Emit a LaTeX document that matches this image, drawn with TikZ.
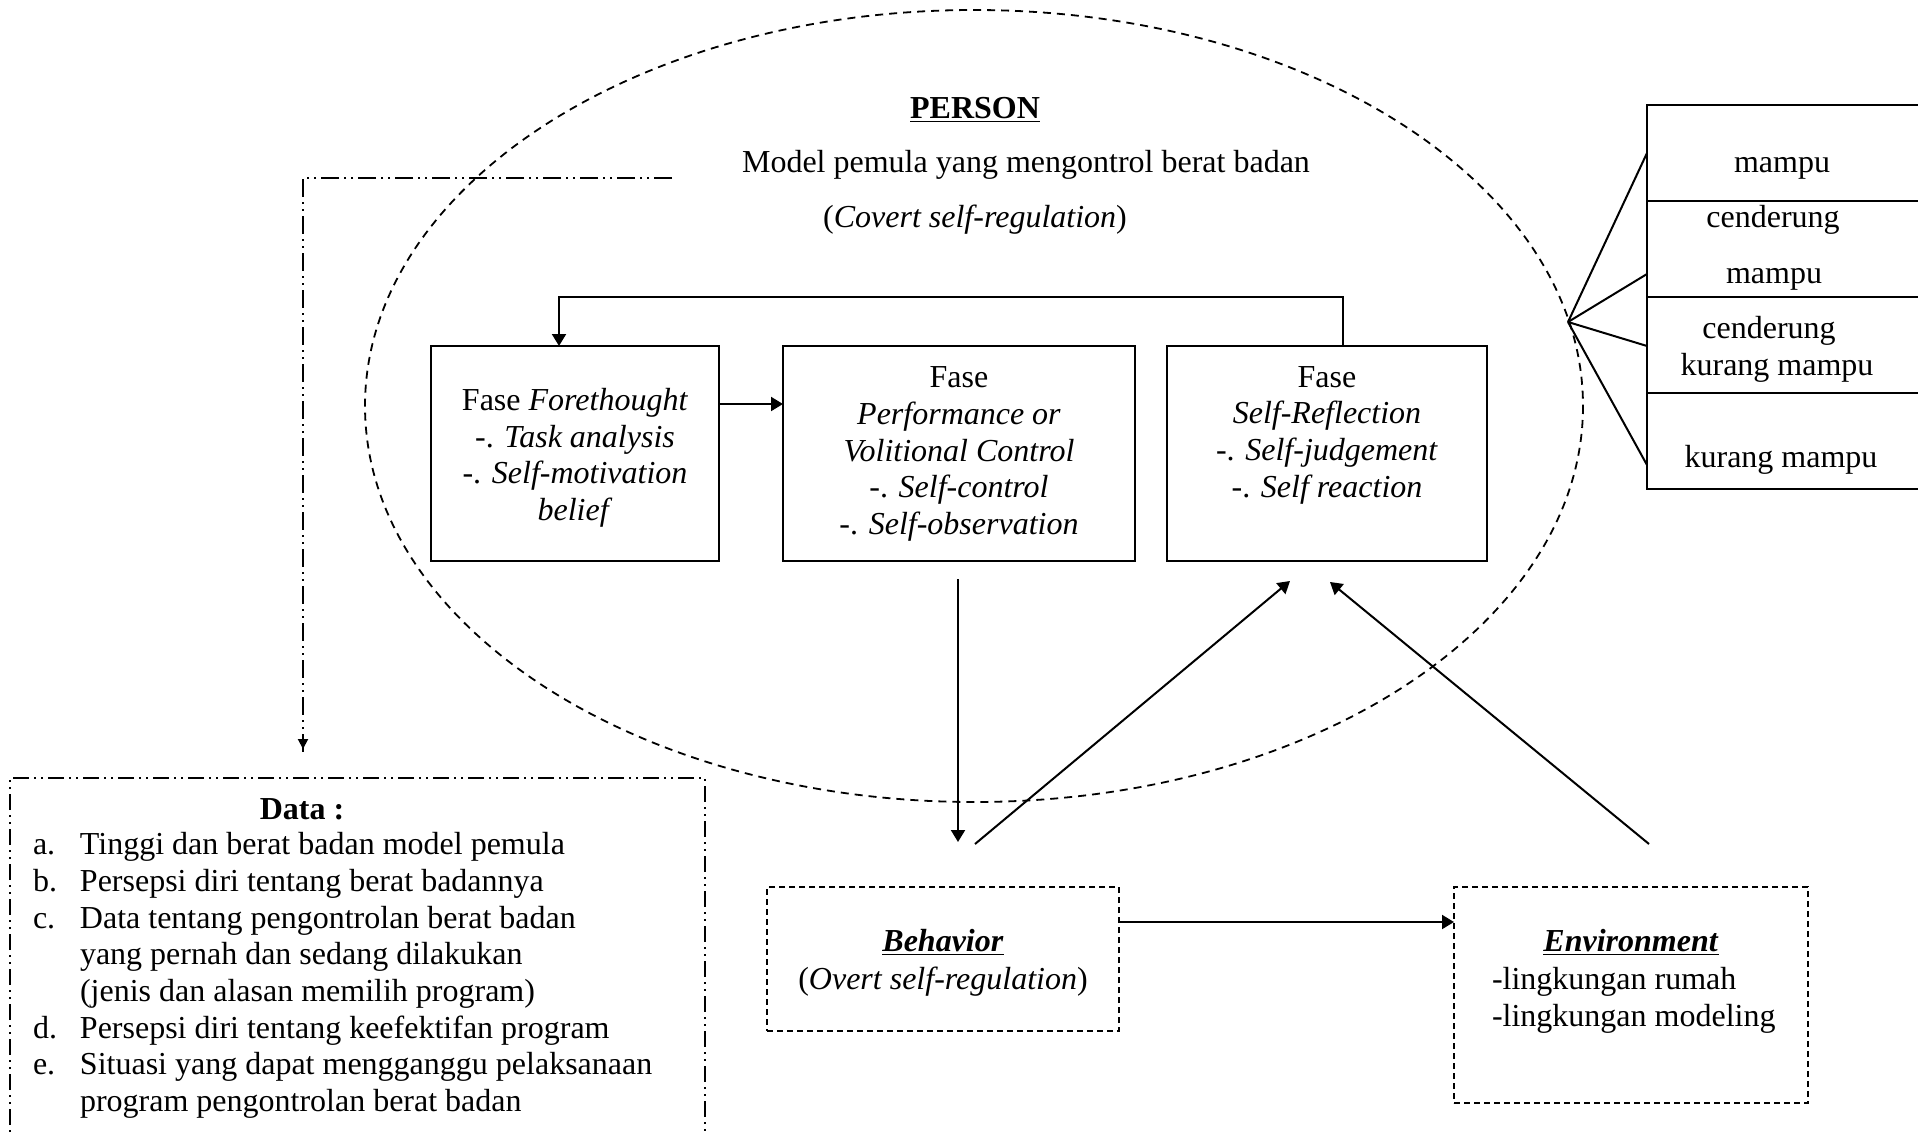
\documentclass[tikz,border=0pt]{standalone}
\usepackage{fontspec}
\setmainfont{Liberation Serif}
\usetikzlibrary{arrows.meta}
\begin{document}
\begin{tikzpicture}[x=0.5pt,y=-0.5pt,
  every node/.style={font=\fontsize{16}{18.35}\selectfont, inner sep=0pt, outer sep=0pt},
  arr/.style={line width=1pt, -{Triangle[length=6pt,width=7pt]}},
  solidline/.style={line width=1pt},
  phasebox/.style={draw, line width=1pt},
  dashbox/.style={draw, line width=1pt, dash pattern=on 3pt off 2pt},
  ddot/.style={line width=1.4pt, dash pattern=on 9pt off 2.5pt on 1pt off 2.5pt on 1pt off 2.5pt},
  ddotthin/.style={line width=1pt, dash pattern=on 8pt off 2.5pt on 1pt off 2.5pt on 1pt off 2.5pt},
  tabrow/.style={draw, line width=1pt, minimum width=139pt, minimum height=48pt},
  txt/.style={anchor=base}]
\useasboundingbox (0,0) rectangle (1918,1135);

% ellipse PERSON
\draw[line width=0.9pt, dash pattern=on 4pt off 3pt] (974,406) ellipse [x radius=609, y radius=396];

\node[txt] (person) at (975,118) {\underline{\textbf{PERSON}}};
\node[txt] (model) at (1026,172) {Model pemula yang mengontrol berat badan};
\node[txt] (covert) at (975,227) {(\textit{Covert self-regulation})};

% phase boxes
\node[phasebox, minimum width=144pt, minimum height=107.5pt] (b1) at (575,453.5) {};
\node[phasebox, minimum width=176pt, minimum height=107.5pt] (b2) at (959,453.5) {};
\node[phasebox, minimum width=160pt, minimum height=107.5pt] (b3) at (1327,453.5) {};

\node[align=center] (t1) at (575,458.3) {\strut Fase \textit{Forethought}\\\strut -. \textit{Task analysis}\\\strut -. \textit{Self-motivation}\\\strut\textit{belief}};
\node[align=center] (t2) at (959,453.8) {\strut Fase\\\strut\textit{Performance or}\\\strut\textit{Volitional Control}\\\strut -. \textit{Self-control}\\\strut -. \textit{Self-observation}};
\node[align=center] (t3) at (1327,434.8) {\strut Fase\\\strut\textit{Self-Reflection}\\\strut -. \textit{Self-judgement}\\\strut -. \textit{Self reaction}};

\coordinate (r12) at (0,404);
\draw[arr] (b1.east |- r12) -- (b2.west |- r12);

\coordinate (fb1) at (1343,297);
\coordinate (fb2) at (559,297);
\draw[arr] (b3.north -| fb1) -- (fb1) -- (fb2) -- (b1.north -| fb2);

% behavior and environment
\node[dashbox, minimum width=176pt, minimum height=72pt] (beh) at (943,959) {};
\node[dashbox, minimum width=177pt, minimum height=108pt] (env) at (1631,995) {};
\node[txt] (behT) at (943,951) {\underline{\textbf{\textit{Behavior}}}};
\node[txt] (behS) at (943,989) {(\textit{Overt self-regulation})};
\node[txt] (envT) at (1631,951) {\underline{\textbf{\textit{Environment}}}};
\node[align=left, anchor=north west] (envL) at (1492,964) {\strut -lingkungan rumah\\\strut -lingkungan modeling};

\coordinate (be) at (0,922);
\draw[arr] (beh.east |- be) -- (env.west |- be);

\coordinate (d1) at (958,579);
\coordinate (d2) at (958,842);
\draw[arr] (d1) -- (d2);
\coordinate (u1s) at (975,844);
\coordinate (u1e) at (1290,581);
\draw[arr] (u1s) -- (u1e);
\coordinate (u2s) at (1649,844);
\coordinate (u2e) at (1330,582);
\draw[arr] (u2s) -- (u2e);

% dash-dot connector to data
\coordinate (p1) at (672,178);
\coordinate (p2) at (303,178);
\coordinate (p3) at (303,749);
\draw[ddot] (p1) -- (p2) -- ([yshift=-2pt]p3);
\draw[line width=1pt, -{Triangle[length=5pt,width=5pt]}] ([yshift=4pt]p3) -- (p3);

% data box
\draw[ddotthin] (10,1160) -- (10,778) -- (705,778) -- (705,1160);
\node[txt] (dataT) at (302,819) {\textbf{Data :}};
\node[align=left, anchor=north west] (dataL) at (33,829) {%
\strut\makebox[23.5pt][l]{a.}Tinggi dan berat badan model pemula\\
\strut\makebox[23.5pt][l]{b.}Persepsi diri tentang berat badannya\\
\strut\makebox[23.5pt][l]{c.}Data tentang pengontrolan berat badan\\
\strut\hspace*{23.5pt}yang pernah dan sedang dilakukan\\
\strut\hspace*{23.5pt}(jenis dan alasan memilih program)\\
\strut\makebox[23.5pt][l]{d.}Persepsi diri tentang keefektifan program\\
\strut\makebox[23.5pt][l]{e.}Situasi yang dapat mengganggu pelaksanaan\\
\strut\hspace*{23.5pt}program pengontrolan berat badan};

% right table
\node[tabrow] (row1) at (1786,153) {};
\node[tabrow] (row2) at (1786,249) {};
\node[tabrow] (row3) at (1786,345) {};
\node[tabrow] (row4) at (1786,441) {};
\node[txt] (m1) at (1782,172) {mampu};
\node[txt] (m2a) at (1773,227) {cenderung};
\node[txt] (m2b) at (1774,283) {mampu};
\node[txt] (m3a) at (1769,338) {cenderung};
\node[txt] (m3b) at (1777,375) {kurang mampu};
\node[txt] (m4) at (1781,467) {kurang mampu};

\coordinate (fan) at (1568,322);
\draw[solidline] (fan) -- (row1.west |- 0,153);
\draw[solidline] (fan) -- (row2.west |- 0,274);
\draw[solidline] (fan) -- (row3.west |- 0,346);
\draw[solidline] (fan) -- (row4.west |- 0,465);
\end{tikzpicture}
\end{document}
